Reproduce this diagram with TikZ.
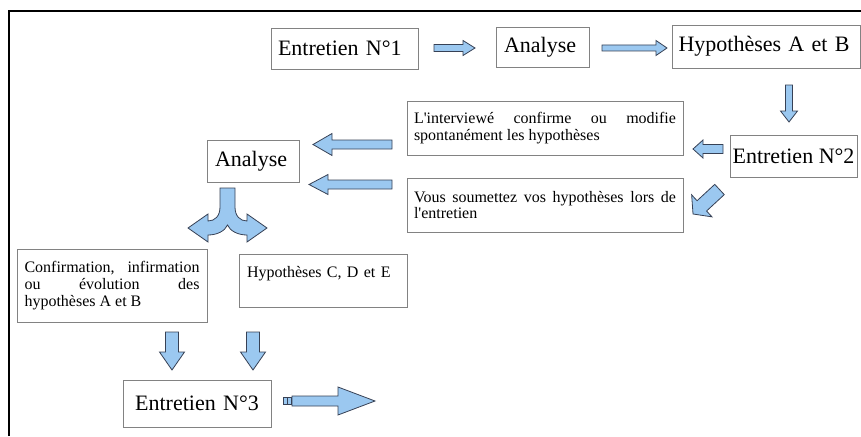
\documentclass[tikz,border=0pt]{standalone}
\usepackage{fontspec}
\setmainfont{Liberation Serif}
\usetikzlibrary{calc}
\definecolor{arrowfill}{RGB}{155,200,240}
\definecolor{arrowline}{RGB}{55,65,85}
\definecolor{boxgray}{RGB}{130,130,130}
\tolerance=10000
\hbadness=10000
\hyphenpenalty=10000
\tikzset{
  box/.style={draw=boxgray, line width=0.9pt, fill=white, inner ysep=0pt, anchor=center},
  bigtxt/.style={font=\fontsize{22}{25}\selectfont},
  smalltxt/.style={font=\fontsize{16}{16.8}\selectfont, align=justify},
  barrow/.style n args={3}{%
    fill=arrowfill, draw=arrowline, line width=0.8pt, line join=miter,
    to path={
      let \p1=(\tikztostart), \p2=(\tikztotarget),
          \p3=($(\p2)!#3!(\p1)$)
      in ($(\p1)!#1!90:(\p2)$) -- ($(\p3)!#1!-90:(\p1)$) -- ($(\p3)!#2!-90:(\p1)$) -- (\p2)
      -- ($(\p3)!#2!90:(\p1)$) -- ($(\p3)!#1!90:(\p1)$) -- ($(\p1)!#1!-90:(\p2)$) -- cycle
    }
  },
  arrowshape/.style={fill=arrowfill, draw=arrowline, line width=0.8pt, line join=miter}
}
\begin{document}
\begin{tikzpicture}[x=1pt, y=-1pt]
\useasboundingbox (0,0) rectangle (861,436);
% frame
\draw[line width=1.8pt] (9,436) -- (9,11) -- (861,11);

% boxes
\node[box, bigtxt, minimum width=147pt, minimum height=41pt, inner xsep=7pt, text width=133pt, align=left] (e1) at (344.5,48.5) {Entretien N°1};
\node[box, bigtxt, minimum width=93pt, minimum height=40pt, inner xsep=8pt, text width=77pt, align=left] (an1) at (542.5,47) {Analyse};
\node[box, bigtxt, minimum width=188pt, minimum height=43pt, inner xsep=6.5pt, text width=175pt, align=left] (hab) at (766,46.5) {Hypothèses A et B};
\node[box, bigtxt, minimum width=127pt, minimum height=42pt, inner xsep=0pt, align=center] (e2) at (793.5,156) {Entretien N°2};
\node[box, smalltxt, minimum width=276pt, minimum height=54pt, inner xsep=7pt, text width=262pt] (conf1) at (545,128) {L\textquotesingle interviewé confirme ou modifie\linebreak spontanément les hypothèses};
\node[box, smalltxt, minimum width=276pt, minimum height=54pt, inner xsep=7pt, text width=262pt] (vous) at (545,205) {Vous soumettez vos hypothèses lors de\linebreak l\textquotesingle entretien};
\node[box, bigtxt, minimum width=92pt, minimum height=42pt, inner xsep=8pt, text width=76pt, align=left] (an2) at (253,161) {Analyse};
\node[box, smalltxt, minimum width=190pt, minimum height=73pt, inner xsep=7.5pt, text width=175pt] (conf) at (112,285.5) {Confirmation, infirmation\linebreak ou évolution des\linebreak hypothèses A et B};
\node[box, smalltxt, minimum width=168pt, minimum height=53pt, inner xsep=8pt, text width=152pt, align=left] (hcde) at (323,280.5) {Hypothèses C, D et E\\\mbox{}};
\node[box, bigtxt, minimum width=148pt, minimum height=47pt, inner xsep=6pt, text width=136pt, align=center] (e3) at (197,403.5) {Entretien N°3};

% arrow end points
\coordinate (a1s) at (434,48);   \coordinate (a1e) at (475,48);
\coordinate (a2s) at (602,48);   \coordinate (a2e) at (667,48);
\coordinate (d1s) at (789,85);   \coordinate (d1e) at (789,122);
\coordinate (l0s) at (723,149);  \coordinate (l0e) at (693,149);
\coordinate (dgs) at (719.5,189.5); \coordinate (dge) at (693,214);
\coordinate (lus) at (392,144.5); \coordinate (lue) at (313,144.5);
\coordinate (lls) at (392,184.5); \coordinate (lle) at (309,184.5);
\coordinate (b1s) at (172,332);  \coordinate (b1e) at (172,370);
\coordinate (b2s) at (253,332);  \coordinate (b2e) at (253,370);
\coordinate (fs) at (292,401);   \coordinate (fe) at (375,401);

% connectors (block arrows)
\draw[barrow={3.5pt}{7.5pt}{12pt}] (a1s) to (a1e);
\draw[barrow={3pt}{7.5pt}{11pt}] (a2s) to (a2e);
\draw[barrow={3.5pt}{8.5pt}{11pt}] (d1s) to (d1e);
\draw[barrow={4.5pt}{9pt}{10pt}] (l0s) to (l0e);
\draw[barrow={7pt}{15pt}{12pt}] (dgs) to (dge);
\draw[barrow={4.5pt}{11pt}{19pt}] (lus) to (lue);
\draw[barrow={4.5pt}{10pt}{19pt}] (lls) to (lle);
\draw[barrow={6.5pt}{12.5pt}{18pt}] (b1s) to (b1e);
\draw[barrow={6.5pt}{12.5pt}{18pt}] (b2s) to (b2e);
\draw[barrow={5pt}{14pt}{37pt}] (fs) to (fe);

% small squares before the last arrow
\draw[arrowshape] (283,397.5) rectangle (287,404.5);
\draw[arrowshape] (287.5,397.5) rectangle (291.5,404.5);

% split arrow below second Analyse
\draw[arrowshape] (220,188) -- (235,188) -- (235,207)
  .. controls (235,216) and (240,221) .. (247,221)
  -- (247,214) -- (267,228) -- (247,242) -- (247,235)
  .. controls (238,235) and (230,231) .. (227.5,225)
  .. controls (225,231) and (217,235) .. (208,235)
  -- (208,242) -- (188,228) -- (208,214) -- (208,221)
  .. controls (215,221) and (220,216) .. (220,207) -- cycle;
\end{tikzpicture}
\end{document}
